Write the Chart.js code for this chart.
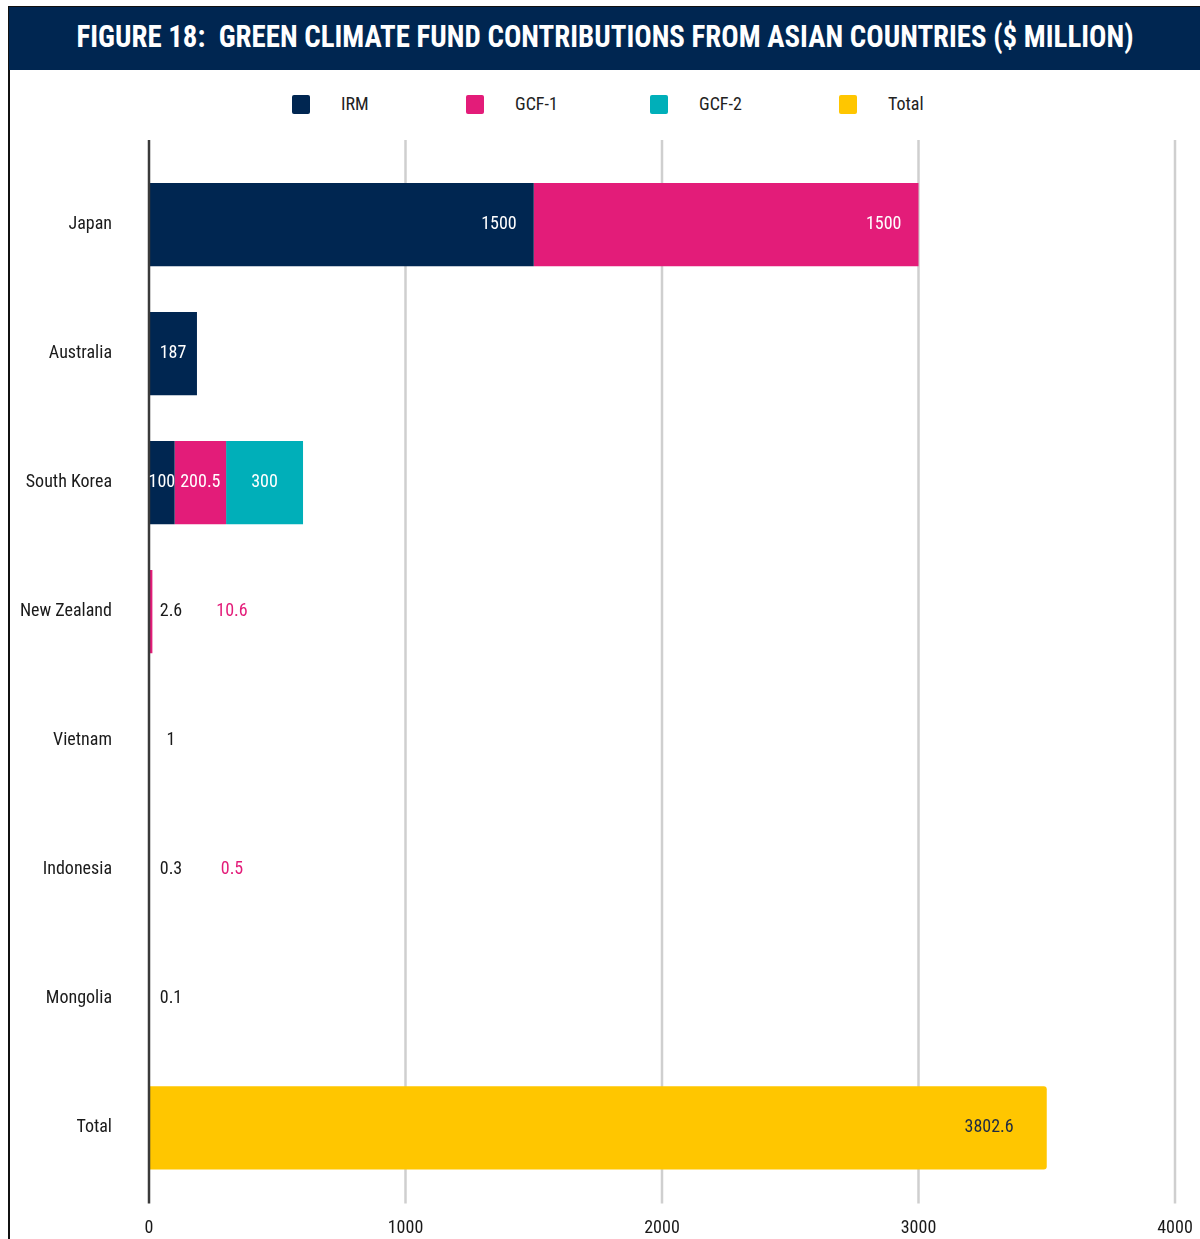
<!DOCTYPE html>
<html>
<head>
<meta charset="utf-8">
<script src="https://cdn.jsdelivr.net/npm/chart.js@4.4.1/dist/chart.umd.min.js"></script>
<style>
  html, body { margin: 0; background: #fff; overflow: hidden; width: 1200px; height: 1239px; }
  body { font-family: Roboto, "DejaVu Sans Condensed", sans-serif; font-stretch: condensed; }
  #lineTop { position: absolute; left: 8px; top: 6px; width: 1192px; height: 1.5px; background: #111; }
  #lineLeft { position: absolute; left: 8px; top: 6px; width: 1.5px; height: 1233px; background: #111; }
  #banner { position: absolute; left: 9px; top: 7px; width: 1191px; height: 63px; background: #002651; overflow: hidden; }
  #title { position: absolute; left: 50%; top: 9px; margin: 0; color: #fff; font-weight: bold; font-size: 32px; line-height: 40px; white-space: nowrap; transform-origin: 50% 50%; }
  .leg { position: absolute; top: 94px; font-size: 18px; color: #222; }
  .leg span.box { position: absolute; left: 0; top: 1px; width: 18px; height: 19px; border-radius: 2px; }
  .leg span.txt { position: absolute; left: 49px; top: 0; line-height: 20px; white-space: nowrap; }
  #wrap { position: absolute; left: 9px; top: 70px; width: 1191px; height: 1186px; }
</style>
</head>
<body>
<div id="lineTop"></div>
<div id="lineLeft"></div>
<div id="banner"><span id="title">FIGURE 18:&nbsp; GREEN CLIMATE FUND CONTRIBUTIONS FROM ASIAN COUNTRIES ($ MILLION)</span></div>
<div id="legend"></div>
<div id="wrap"><canvas id="myChart"></canvas></div>
<script>
// categories
var countries = ['Japan', 'Australia', 'South Korea', 'New Zealand', 'Vietnam', 'Indonesia', 'Mongolia', 'Total'];
// series values ($ million)
var irm  = [1500, 187, 100, 2.6, 1, 0.3, 0.1, null];
var gcf1 = [1500, null, 200.5, 10.6, null, 0.5, null, null];
var gcf2 = [null, null, 300, null, null, null, null, null];
// total bar as drawn in the figure, and the number printed on it
var totalBar = [null, null, null, null, null, null, null, 3500];
var totalText = [null, null, null, null, null, null, null, '3802.6'];
// x axis ticks
var xTicks = [0, 1000, 2000, 3000, 4000];

var seriesNames = ['IRM', 'GCF-1', 'GCF-2', 'Total'];
var seriesColors = ['#002651', '#e31c79', '#00afb9', '#ffc600'];
var FAMILY = 'Roboto, "DejaVu Sans Condensed", sans-serif';

// legend (html)
var legX = [292, 466, 650, 839];
var legend = document.getElementById('legend');
seriesNames.forEach(function (n, i) {
  var d = document.createElement('div');
  d.className = 'leg';
  d.style.left = legX[i] + 'px';
  d.innerHTML = '<span class="box" style="background:' + seriesColors[i] + '"></span><span class="txt">' + n + '</span>';
  legend.appendChild(d);
});

// squeeze title to the width it has in the original
var t = document.getElementById('title');
var realW = t.getBoundingClientRect().width;
t.style.transform = 'translateX(-50%) scaleX(' + (1057 / realW) + ')';

// grid lines that run a bit past the plot area, and the dark zero line
function vline(c, px, a, color) {
  c.beginPath();
  c.lineWidth = 2.5;
  c.strokeStyle = color;
  c.moveTo(px, a.top - 20);
  c.lineTo(px, a.bottom + 11);
  c.stroke();
}
var gridPlugin = {
  id: 'gridExt',
  beforeDatasetsDraw: function (chart) {
    var c = chart.ctx, a = chart.chartArea, x = chart.scales.x;
    c.save();
    xTicks.forEach(function (v) {
      if (v !== 0) vline(c, x.getPixelForValue(v), a, '#cfcfcf');
    });
    c.restore();
  },
  afterDatasetsDraw: function (chart) {
    var c = chart.ctx;
    c.save();
    vline(c, chart.scales.x.getPixelForValue(0), chart.chartArea, '#3a3a3a');
    c.restore();
  }
};

// value labels
var labelPlugin = {
  id: 'valueLabels',
  afterDatasetsDraw: function (chart) {
    var c = chart.ctx, a = chart.chartArea;
    c.save();
    c.font = 'condensed 18px ' + FAMILY;
    c.textBaseline = 'middle';
    chart.data.datasets.forEach(function (ds, di) {
      var meta = chart.getDatasetMeta(di);
      meta.data.forEach(function (bar, i) {
        var v = ds.data[i];
        if (v === null || v === undefined) return;
        var txt = di === 3 ? totalText[i] : String(v);
        var w = bar.x - bar.base;
        if (w > 300) {
          c.textAlign = 'right';
          c.fillStyle = di === 3 ? '#1d2a44' : '#fff';
          c.fillText(txt, bar.x - (di === 3 ? 33 : 17), bar.y);
        } else if (w > 15) {
          c.textAlign = 'center';
          c.fillStyle = '#fff';
          c.fillText(txt, (bar.x + bar.base) / 2, bar.y);
        } else {
          c.textAlign = 'center';
          c.fillStyle = di === 0 ? '#1a1a1a' : seriesColors[di];
          c.fillText(txt, a.left + 22 + 61 * di, bar.y);
        }
      });
    });
    c.restore();
  }
};

var tickFont = { family: FAMILY, size: 18, weight: 'condensed' };

var ctx = document.getElementById('myChart').getContext('2d');
var myChart = new Chart(ctx, {
  type: 'bar',
  data: {
    labels: countries,
    datasets: [irm, gcf1, gcf2, totalBar].map(function (d, i) {
      return {
        label: seriesNames[i],
        data: d,
        backgroundColor: seriesColors[i],
        borderWidth: 0,
        borderRadius: i === 3 ? 3 : 0,
        barPercentage: 1,
        categoryPercentage: 0.645
      };
    })
  },
  options: {
    indexAxis: 'y',
    responsive: true,
    maintainAspectRatio: false,
    animation: false,
    layout: { padding: { top: 90, right: 0, bottom: 0, left: 0 } },
    plugins: { legend: { display: false }, tooltip: { enabled: false } },
    scales: {
      x: {
        stacked: true,
        min: 0, max: 4000,
        afterBuildTicks: function (s) { s.ticks = xTicks.map(function (v) { return { value: v }; }); },
        afterFit: function (s) { s.paddingRight = 25; },
        grid: { display: false },
        border: { display: false },
        ticks: { padding: 17, color: '#1a1a1a', font: tickFont, callback: function (v) { return String(v); } }
      },
      y: {
        stacked: true,
        grid: { display: false },
        border: { display: false },
        afterFit: function (s) { s.width = 140; },
        ticks: { padding: 29, color: '#1a1a1a', font: tickFont }
      }
    }
  },
  plugins: [gridPlugin, labelPlugin]
});
</script>
</body>
</html>
